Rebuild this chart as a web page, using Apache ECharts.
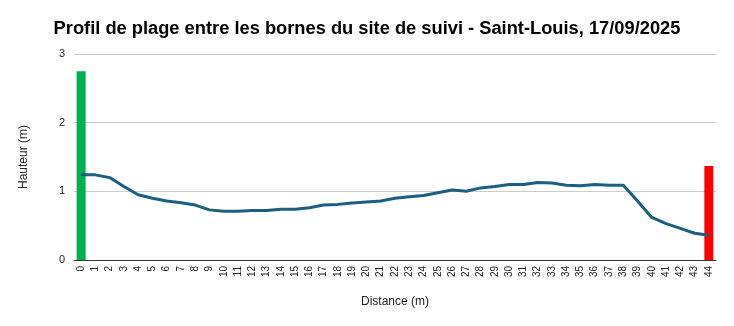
<!DOCTYPE html>
<html><head><meta charset="utf-8">
<script src="https://cdn.jsdelivr.net/npm/echarts@6/dist/echarts.min.js"></script>
<style>html,body{margin:0;padding:0;background:#fff}#c{width:734px;height:326px}</style>
</head><body><div id="c"></div>
<script>
const categories = ["0","1","2","3","4","5","6","7","8","9","10","11","12","13","14","15","16","17","18","19","20","21","22","23","24","25","26","27","28","29","30","31","32","33","34","35","36","37","38","39","40","41","42","43","44"];
const hauteur = [1.24,1.24,1.20,1.07,0.95,0.90,0.86,0.835,0.80,0.73,0.71,0.71,0.72,0.72,0.74,0.74,0.76,0.80,0.81,0.83,0.845,0.86,0.90,0.92,0.94,0.98,1.02,1.00,1.05,1.07,1.10,1.10,1.13,1.12,1.09,1.08,1.10,1.09,1.09,0.86,0.62,0.53,0.46,0.39,0.36];
const borneDebut = 2.75;
const borneFin = 1.37;
const yTicks = [0,1,2,3];

const bornes = categories.map((c,i)=> i===0 ? {value:borneDebut, itemStyle:{color:'#00b050'}} : (i===categories.length-1 ? {value:borneFin, itemStyle:{color:'#ff0000'}} : '-'));

const chart = echarts.init(document.getElementById('c'));
chart.setOption({
  animation:false,
  textStyle:{fontFamily:'Liberation Sans, Arial, sans-serif'},
  title:{text:'Profil de plage entre les bornes du site de suivi - Saint-Louis, 17/09/2025', left:'center', top:15,
    textStyle:{fontSize:18.3, fontWeight:'bold', color:'#000', fontFamily:'Liberation Sans, Arial, sans-serif'}},
  grid:{left:74, right:18, top:54, bottom:66},
  xAxis:{type:'category', data:categories, boundaryGap:true,
    name:'Distance (m)', nameLocation:'middle', nameGap:36,
    nameTextStyle:{fontSize:12, color:'#222'},
    axisLine:{lineStyle:{color:'#333', width:1}}, axisTick:{show:false},
    axisLabel:{rotate:90, interval:0, fontSize:10, color:'#222', margin:6}},
  yAxis:{type:'value', min:yTicks[0], max:yTicks[yTicks.length-1], interval:1,
    name:'Hauteur (m)', nameLocation:'middle', nameGap:44,
    nameTextStyle:{fontSize:12, color:'#222'},
    axisLine:{show:false}, axisTick:{show:false},
    axisLabel:{fontSize:11, color:'#222', margin:9},
    splitLine:{lineStyle:{color:'#cccccc'}}},
  series:[
    {type:'bar', data:bornes, barWidth:9, z:2},
    {type:'line', data:hauteur, showSymbol:false, symbol:'none', z:3,
      lineStyle:{color:'#1b5e80', width:3}}
  ]
});
</script></body></html>
